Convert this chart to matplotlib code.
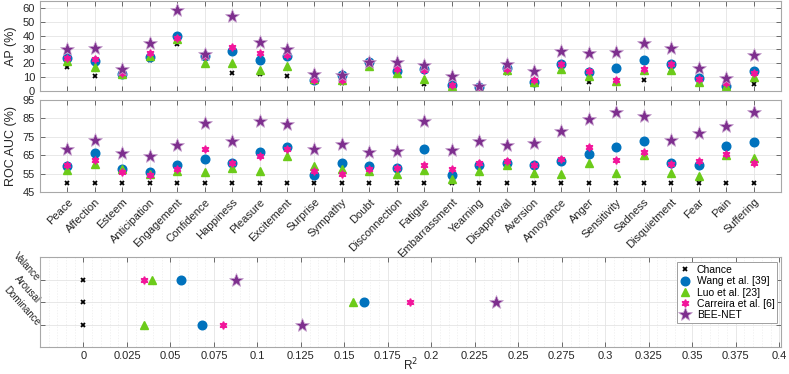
import numpy as np
import matplotlib.pyplot as plt
from matplotlib.ticker import AutoMinorLocator

plt.rcParams['font.family'] = ['Liberation Sans', 'DejaVu Sans']

emotions = ['Peace', 'Affection', 'Esteem', 'Anticipation', 'Engagement', 'Confidence',
            'Happiness', 'Pleasure', 'Excitement', 'Surprise', 'Sympathy', 'Doubt',
            'Disconnection', 'Fatigue', 'Embarrassment', 'Yearning', 'Disapproval',
            'Aversion', 'Annoyance', 'Anger', 'Sensitivity', 'Sadness', 'Disquietment',
            'Fear', 'Pain', 'Suffering']

# AP (%)
ap_chance = [17.4, 10.7, 12.0, 22.6, 33.8, 24.5, 13.3, 12.1, 10.7, 8.0, 5.7, 19.5,
             13.5, 4.8, 3.3, 1.8, 13.0, 6.2, 15.5, 6.7, 6.0, 7.9, 15.0, 6.0, 2.0, 5.0]
ap_wang = [23.8, 22.0, 12.4, 24.8, 40.0, 25.2, 28.8, 22.6, 25.2, 7.9, 11.7, 21.0,
           14.3, 15.7, 4.3, 2.6, 16.7, 6.7, 19.3, 13.8, 16.4, 22.1, 19.3, 9.5, 3.6, 14.8]
ap_luo = [22.0, 17.4, 12.0, 25.5, 37.4, 20.5, 20.5, 15.0, 18.3, 9.0, 7.9, 18.3,
          13.0, 8.6, 3.6, 1.9, 15.0, 6.7, 15.7, 11.0, 7.1, 15.0, 15.0, 6.2, 3.6, 9.8]
ap_carreira = [24.0, 23.0, 13.0, 27.6, 38.6, 25.0, 32.0, 27.4, 25.7, 8.3, 8.3, 21.0,
               15.6, 15.0, 4.5, 2.6, 16.0, 7.9, 19.5, 14.8, 7.9, 16.2, 19.3, 8.6, 5.7, 12.9]
ap_beenet = [30.0, 31.0, 16.2, 34.8, 58.6, 27.0, 54.0, 35.2, 30.0, 12.6, 11.9, 20.7,
             20.8, 19.0, 10.7, 3.6, 19.3, 14.3, 29.0, 27.4, 28.0, 34.5, 31.0, 16.4, 9.3, 26.2]

# ROC AUC (%)
roc_chance = [50.0] * 26
roc_wang = [59.2, 66.1, 57.5, 56.1, 59.7, 62.8, 60.8, 66.5, 69.5, 54.1, 60.5, 59.0,
            58.1, 68.1, 54.5, 59.9, 60.8, 59.9, 61.7, 65.7, 69.5, 72.8, 60.8, 59.9, 69.9, 72.3]
roc_luo = [57.0, 60.0, 57.4, 55.0, 56.6, 56.1, 57.9, 56.5, 64.3, 59.0, 57.7, 56.3,
           55.0, 56.8, 52.3, 56.3, 59.5, 55.4, 54.6, 60.5, 55.4, 65.2, 55.4, 53.5, 65.0, 63.7]
roc_carreira = [59.7, 62.3, 55.7, 54.1, 57.7, 68.5, 60.5, 64.8, 68.3, 56.5, 55.0, 57.7,
                57.9, 59.9, 57.4, 61.0, 61.9, 59.9, 63.0, 69.5, 62.5, 66.8, 60.1, 61.9, 65.9, 60.8]
roc_beenet = [68.6, 73.5, 66.1, 64.3, 70.8, 82.6, 72.8, 83.5, 81.7, 68.5, 71.2, 66.8,
              67.5, 83.7, 67.9, 72.5, 70.6, 71.9, 78.3, 84.6, 88.6, 86.5, 73.2, 76.8, 80.8, 88.6]

# R^2 for continuous dimensions
dims = ['Valance', 'Arousal', 'Dominance']
r2_chance = [0.0, 0.0, 0.0]
r2_wang = [0.0562, 0.161, 0.0681]
r2_luo = [0.0393, 0.1547, 0.035]
r2_carreira = [0.035, 0.1878, 0.0804]
r2_beenet = [0.0875, 0.2371, 0.1255]
r2_ticks = [0, 0.025, 0.05, 0.075, 0.1, 0.125, 0.15, 0.175, 0.2, 0.225,
            0.25, 0.275, 0.3, 0.325, 0.35, 0.375, 0.4]

methods = ['Chance', 'Wang et al. [39]', 'Luo et al. [23]', 'Carreira et al. [6]', 'BEE-NET']
styles = [
    dict(marker='x', color='black', ms=3, mew=1.3),
    dict(marker='o', color='#0072BD', ms=6.2, mec='#0072BD'),
    dict(marker='^', color='#6CCB1A', ms=6.2, mec='#6CCB1A'),
    dict(marker=(6, 1, 0), color='#F2169B', ms=5.5, mec='#F2169B'),
    dict(marker='*', color='#7E2F8E', ms=10, mec='#C9A6D0', mew=0.5),
]

W, H = 789, 374
fig = plt.figure(figsize=(W / 100, H / 100), dpi=100)


def box(l, t, r, b):
    return [l / W, 1 - b / H, (r - l) / W, (b - t) / H]


spine_c = '#A8A8A8'
text_c = '#262626'


def style_axes(ax):
    for s in ax.spines.values():
        s.set_color(spine_c)
        s.set_linewidth(0.8)
    ax.tick_params(direction='in', which='both', top=True, right=True,
                   color='#555555', labelcolor=text_c, labelsize=8, length=3.5, width=0.6)
    ax.tick_params(which='minor', length=0)
    ax.grid(True, which='major', color='#E4E4E4', lw=0.6)
    ax.set_axisbelow(True)


x = np.arange(1, len(emotions) + 1)

ax1 = fig.add_axes(box(40, 1, 781, 91))
series = [ap_chance, ap_wang, ap_luo, ap_carreira, ap_beenet]
for vals, st in zip(series, styles):
    ax1.plot(x, vals, ls='none', **st)
ax1.set_xlim(0, 27)
ax1.set_ylim(0, 65)
ax1.set_yticks(range(0, 61, 10))
ax1.set_xticks(x)
ax1.set_xticklabels([])
ax1.set_ylabel('AP (%)', fontsize=9, color=text_c, labelpad=4)
style_axes(ax1)

ax2 = fig.add_axes(box(40, 100, 781, 192))
series = [roc_chance, roc_wang, roc_luo, roc_carreira, roc_beenet]
for vals, st in zip(series, styles):
    ax2.plot(x, vals, ls='none', **st)
ax2.set_xlim(0, 27)
ax2.set_ylim(45, 95)
ax2.set_yticks(range(45, 96, 10))
ax2.set_xticks(x)
ax2.set_xticklabels(emotions, rotation=45, ha='right', rotation_mode='anchor')
ax2.set_ylabel('ROC AUC (%)', fontsize=9, color=text_c, labelpad=4)
style_axes(ax2)

ax3 = fig.add_axes(box(40, 257, 781, 347))
y = np.arange(1, len(dims) + 1)
series = [r2_chance, r2_wang, r2_luo, r2_carreira, r2_beenet]
for vals, st, lab in zip(series, styles, methods):
    ax3.plot(vals, y, ls='none', label=lab, **st)
ax3.set_xlim(-0.025, 0.401)
ax3.set_ylim(4, 0)
ax3.set_yticks(y)
ax3.set_yticklabels(dims, rotation=-48, ha='right', va='center', rotation_mode='anchor')
ax3.set_xticks(r2_ticks)
ax3.set_xticklabels(['%g' % v for v in r2_ticks])
ax3.xaxis.set_minor_locator(AutoMinorLocator(5))
ax3.set_xlabel('R$^2$', fontsize=8.5, color=text_c, labelpad=-3)
style_axes(ax3)
ax3.tick_params(axis='y', pad=1.5, labelsize=7)
ax3.tick_params(axis='x', pad=3)
ax3.grid(True, which='minor', axis='x', color='#EDEDED', lw=0.5, ls=(0, (2, 2)))

leg = ax3.legend(loc='upper right', bbox_to_anchor=(0.995, 0.94), fontsize=7.5,
                 frameon=True, fancybox=False, edgecolor='#A0A0A0', framealpha=1,
                 labelspacing=0.12, handletextpad=0.5, borderpad=0.25, handlelength=1.2,
                 borderaxespad=0)
leg.get_frame().set_linewidth(0.7)

fig.savefig('out.png', dpi=100)
